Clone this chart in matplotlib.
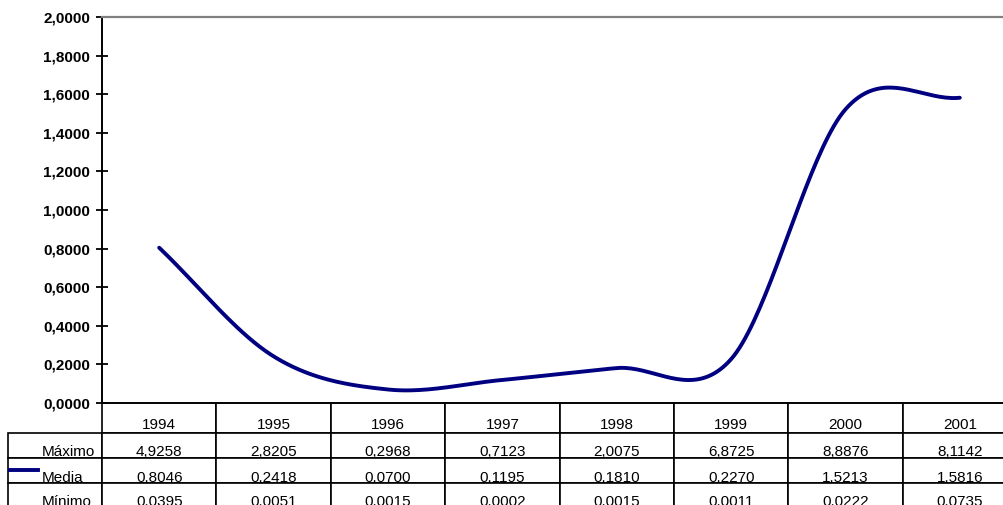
import numpy as np
import matplotlib.pyplot as plt

years = ['1994', '1995', '1996', '1997', '1998', '1999', '2000', '2001']
maximo = [4.9258, 2.8205, 0.2968, 0.7123, 2.0075, 6.8725, 8.8876, 8.1142]
media = [0.8046, 0.2418, 0.0700, 0.1195, 0.1810, 0.2270, 1.5213, 1.5816]
minimo = [0.0395, 0.0051, 0.0015, 0.0002, 0.0015, 0.0011, 0.0222, 0.0735]
row_names = ['Máximo', 'Media', 'Mínimo']
yticks = [0.0, 0.2, 0.4, 0.6, 0.8, 1.0, 1.2, 1.4, 1.6, 1.8, 2.0]

plt.rcParams['font.family'] = ['Liberation Sans', 'DejaVu Sans']
NAVY = '#000080'


def fmt(v):
    return f'{v:.4f}'.replace('.', ',')


def smooth(y, n=40):
    # catmull-rom through the yearly points (excel style smoothed line),
    # end points extended along the first/last chord
    y = np.asarray(y, float)
    p = np.concatenate([[2 * y[0] - y[1]], y, [2 * y[-1] - y[-2]]])
    xs, ys = [], []
    t = np.linspace(0, 1, n, endpoint=False)
    for i in range(len(y) - 1):
        p0, p1, p2, p3 = p[i:i + 4]
        m1 = (p2 - p0) / 2
        m2 = (p3 - p1) / 2
        h00 = 2 * t**3 - 3 * t**2 + 1
        h10 = t**3 - 2 * t**2 + t
        h01 = -2 * t**3 + 3 * t**2
        h11 = t**3 - t**2
        ys.append(h00 * p1 + h10 * m1 + h01 * p2 + h11 * m2)
        xs.append(i + t)
    xs.append([len(y) - 1])
    ys.append([y[-1]])
    return np.concatenate(xs), np.concatenate(ys)


W, H = 1004, 505
fig = plt.figure(figsize=(W / 100, H / 100), dpi=100)
# axes runs a bit past the right edge, like the original sheet
ax_l, ax_b, ax_w, ax_h = 102, 102, 915, 386
ax = fig.add_axes([ax_l / W, ax_b / H, ax_w / W, ax_h / H])

sx, sy = smooth(media)
line, = ax.plot(sx, sy, color=NAVY, lw=2.8, solid_capstyle='round')

ax.set_xlim(-0.5, len(years) - 0.5)
ax.set_ylim(0, 2)
ax.set_xticks([])
ax.set_yticks(yticks)
ax.set_yticklabels([fmt(v) for v in yticks], fontsize=11, fontweight='bold')
ax.tick_params(axis='y', direction='inout', length=9, width=1.3, pad=4)

ax.spines['right'].set_visible(False)
ax.spines['top'].set_color('#808080')
ax.spines['top'].set_linewidth(1.6)
ax.spines['left'].set_linewidth(1.4)
ax.spines['bottom'].set_linewidth(1.2)

# data table under the plot
label_w, col_w = 94, 114.4
head_h, row_h = 30, 25
tab_w = label_w + col_w * len(years)
tab_h = head_h + row_h * len(row_names)
cell_text = [[name] + [fmt(v) for v in vals]
             for name, vals in zip(row_names, [maximo, media, minimo])]
tab = ax.table(cellText=cell_text, colLabels=[''] + years,
               colWidths=[label_w] + [col_w] * len(years), cellLoc='center',
               bbox=[-label_w / ax_w, -tab_h / ax_h, tab_w / ax_w, tab_h / ax_h])
tab.auto_set_font_size(False)
tab.set_fontsize(11)
for (r, c), cell in tab.get_celld().items():
    cell.set_height(head_h if r == 0 else row_h)
    cell.set_linewidth(1.2)
    cell.set_edgecolor('black')
    cell.get_text().set_va('top')
    if c == 0:
        cell._loc = 'left'
        cell.PAD = 0.36
        cell.get_text().set_ha('left')
    if r == 0 and c == 0:
        cell.visible_edges = ''

# legend key for the Media row
ky = (H - 470 - ax_b) / ax_h
ax.plot([(10 - ax_l) / ax_w, (38 - ax_l) / ax_w], [ky, ky], color=line.get_color(),
        lw=2.8, transform=ax.transAxes, clip_on=False)

fig.savefig('out.png', dpi=100)
